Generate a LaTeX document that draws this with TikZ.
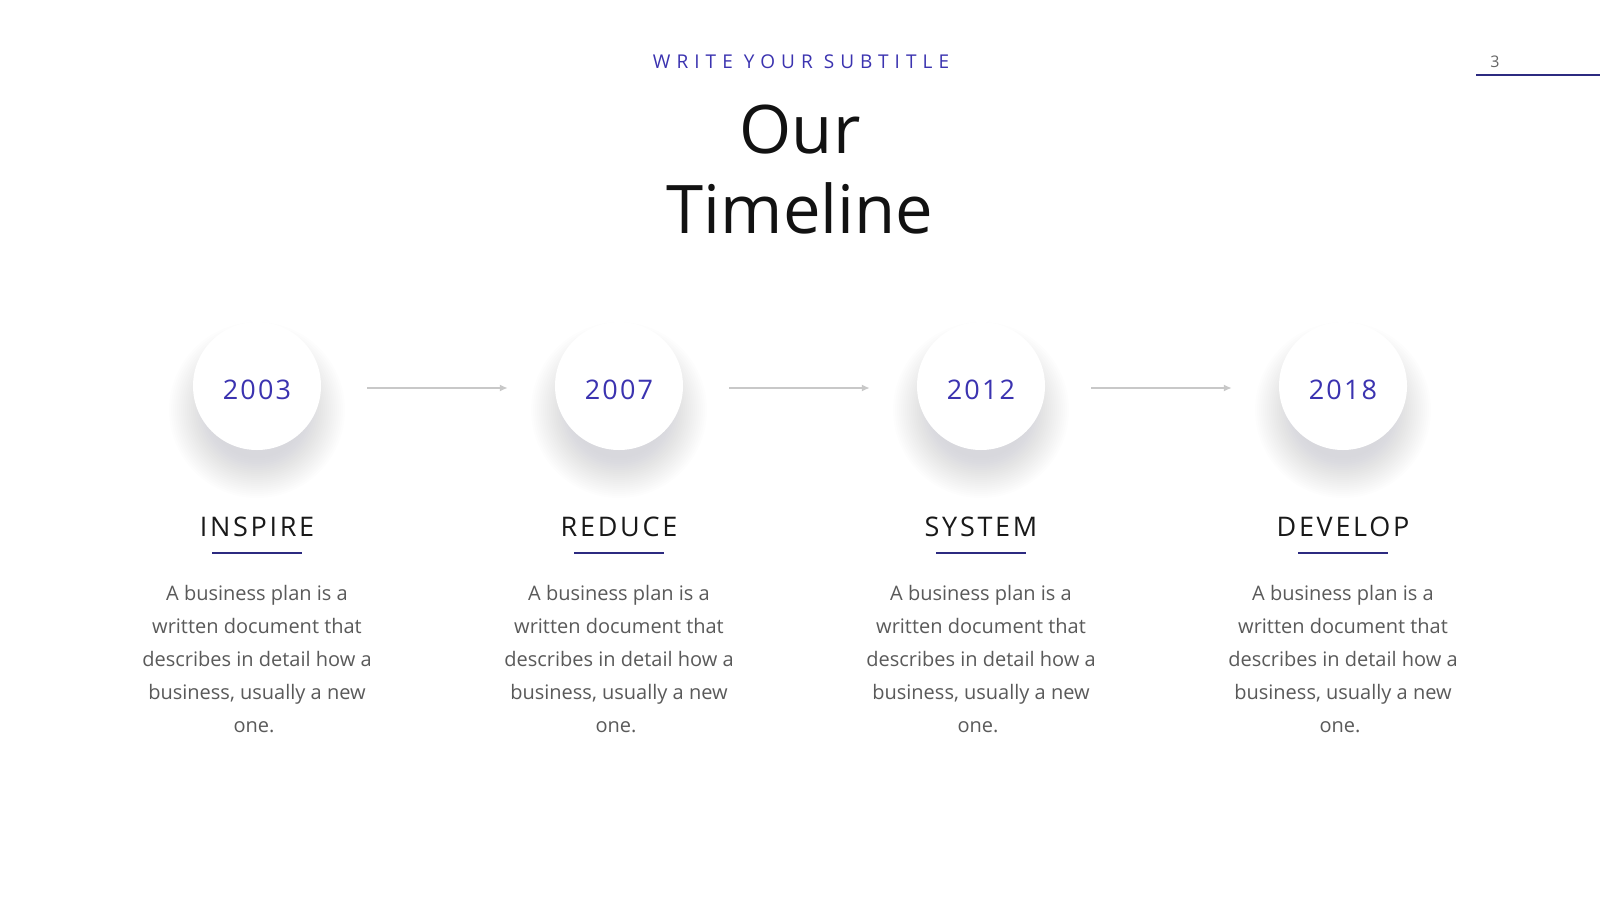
\documentclass[tikz,border=0pt]{standalone}
\usepackage{fontspec}
\setmainfont{Open Sans}
\newfontfamily\subf[LetterSpace=32]{Open Sans}
\newfontfamily\yearf[LetterSpace=8]{Open Sans}
\newfontfamily\headf[LetterSpace=10]{Open Sans}
\usetikzlibrary{arrows.meta}
\definecolor{accent}{HTML}{3B33B0}
\definecolor{navy}{HTML}{2C2A80}
\definecolor{bodygray}{HTML}{5A5A5A}
\definecolor{conngray}{HTML}{C8C8C8}
\definecolor{shadowc}{HTML}{5C5C66}
\tikzset{
  subtitle/.style={font=\subf\fontsize{19}{23}\selectfont, text=accent, inner sep=0},
  titlef/.style={font=\fontsize{67}{80}\selectfont, text=black!93, inner sep=0},
  pagenum/.style={font=\fontsize{16}{20}\selectfont, text=black!60, inner sep=0},
  pageline/.style={draw=navy, line width=2},
  circ/.style={circle, fill=white, minimum size=128, inner sep=0},
  softshadow/.style={fill=shadowc, fill opacity=0.0062},
  year/.style={font=\yearf\fontsize{27}{32}\selectfont, text=accent, inner sep=0},
  head/.style={font=\headf\fontsize{27}{32}\selectfont, text=black!90, inner sep=0},
  uline/.style={draw=navy, line width=2},
  bodyt/.style={font=\fontsize{20}{33}\selectfont, text=bodygray, inner sep=0},
  conn/.style={draw=conngray, line width=2.5, -{Latex[length=8,width=7]}},
}
\begin{document}
\begin{tikzpicture}[x=1pt,y=-1pt]
\useasboundingbox (0,0) rectangle (1600,900);
\fill[white] (0,0) rectangle (1600,900);
\node[subtitle,anchor=base] (sub) at (801,68) {WRITE YOUR SUBTITLE};
\node[titlef,anchor=base] (t1) at (800,153) {Our};
\node[titlef,anchor=base] (t2) at (800,233) {Timeline};
\node[pagenum,anchor=base] (pg) at (1495,67) {3};
\coordinate (pla) at (1476,75);
\coordinate (plb) at (1600,75);
\draw[pageline] (pla) -- (plb);
\foreach \i/\x/\yr/\hd in {1/257/2003/INSPIRE, 2/619/2007/REDUCE, 3/981/2012/SYSTEM, 4/1343/2018/DEVELOP}{
  \foreach \r in {48,50,...,88}{
    \fill[softshadow] (\x,410) circle[radius=\r];
  }
  \node[circ] (c\i) at (\x,386) {};
  \node[year,anchor=base] (y\i) at (\x,399) {\yr};
  \node[head,anchor=base] (h\i) at (\x,536) {\hd};
  \coordinate (ua\i) at (\x-45,553);
  \coordinate (ub\i) at (\x+45,553);
  \draw[uline] (ua\i) -- (ub\i);
  \node[bodyt,anchor=base] (ba\i) at (\x,600) {A business plan is a};
  \node[bodyt,anchor=base] (bb\i) at (\x,633) {written document that};
  \node[bodyt,anchor=base] (bc\i) at (\x,666) {describes in detail how a};
  \node[bodyt,anchor=base] (bd\i) at (\x,699) {business, usually a new};
  \node[bodyt,anchor=base] (be\i) at (\x-3,732) {one.};
}
\draw[conn] ([xshift=46pt,yshift=-2pt]c1.east) -- ([xshift=-47pt,yshift=-2pt]c2.west);
\draw[conn] ([xshift=46pt,yshift=-2pt]c2.east) -- ([xshift=-47pt,yshift=-2pt]c3.west);
\draw[conn] ([xshift=46pt,yshift=-2pt]c3.east) -- ([xshift=-47pt,yshift=-2pt]c4.west);
\end{tikzpicture}
\end{document}
